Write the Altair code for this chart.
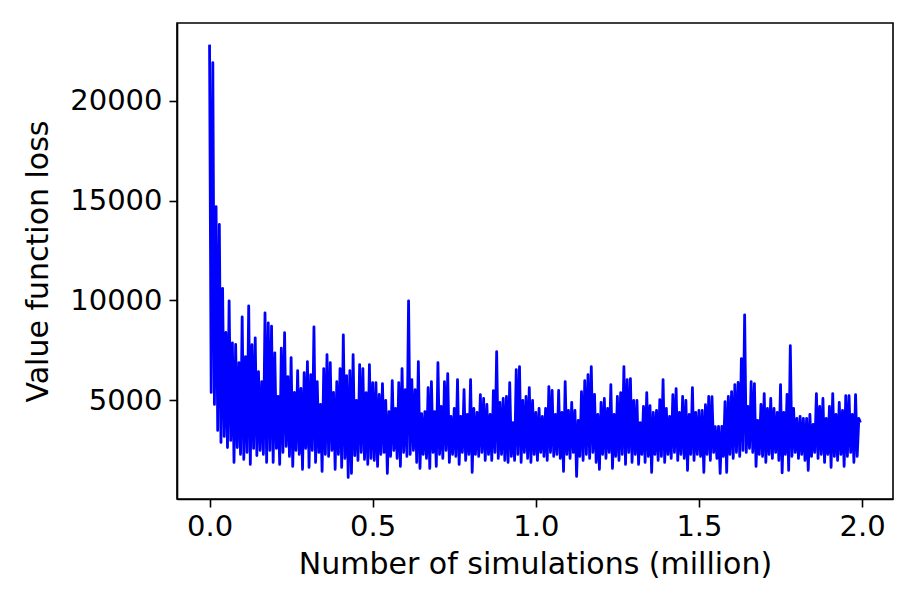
import altair as alt
import pandas as pd

seg_a = [22800, 5400, 21900, 4800, 14700, 3500, 13800, 2900, 10600, 3200, 8400, 2640, 9980, 3000,
         7880, 1900, 7800, 2640, 6890, 2300, 9180, 2050, 7190, 2400, 9730, 1800, 7790, 2600, 8130,
         2240, 6440, 2500, 5940, 2300, 9380, 1900, 8880, 2500, 8720, 1900, 7380]
seg_b = [2600, 5200, 1800, 7620, 2400, 8390, 2700, 6190, 2200, 7140, 1700, 5400, 2500, 6490, 2300,
         5600, 1550, 6390, 2600, 6940, 1650, 6290, 2500, 8680, 1900, 5940, 2400, 4800, 1450, 6590,
         2300, 7290, 2200, 6890, 2500, 5400, 1550, 5940, 2300, 6590, 1650, 8280, 2100, 6240, 1150,
         6490, 1350, 7290, 2240, 5000, 2000, 6790, 2400, 6590, 2050, 5390, 1800, 6790, 2100, 5890]
seg_c = [2000, 5890, 1700, 5300, 2300, 5840, 2400, 5000, 1350, 4440, 2200, 5990, 2500, 4600, 2100,
         5890, 1700, 6590, 2400, 5540, 2200, 9980, 2300, 6040, 2500, 5540, 1900, 6940, 1600, 4340,
         2300, 4440, 2100, 5640, 1600, 5940, 2400, 4440, 1700, 6890, 2300, 4700, 2100, 5940, 2500,
         6340, 1900, 4200, 2300, 4600, 2200, 6040, 1800, 4200, 2400, 5540, 2000, 4300, 2300, 6040]
seg_d = [1400, 4600, 2300, 4400, 2200, 5290, 2400, 5100, 2000, 4800, 2300, 4300, 2000, 5490, 2400,
         7440, 2100, 4900, 2300, 5100, 2000, 5200, 1900, 5890, 2200, 3890, 2000, 6540, 2300, 6690,
         1900, 5000, 2400, 5200, 2100, 5640, 1900, 5000, 2300, 4400, 2000, 4600, 2400, 4200, 2200,
         4600, 2000, 5690, 2400, 5500, 2200, 4300, 2300, 5500, 2100, 4400]
seg_e = [1450, 5940, 2300, 4500, 2100, 4900, 2400, 4500, 1200, 4000, 2200, 5440, 2000, 5990, 2300,
         6290, 2100, 6690, 2400, 5300, 1900, 4300, 1550, 4900, 2300, 5100, 2100, 4600, 2400, 5790,
         1600, 4300, 2200, 5200, 2000, 5390, 2300, 6690, 1800, 6040, 2400, 6090, 1900, 5000, 2300,
         5000, 1800, 3890, 2300, 4700, 1900, 5390, 2200, 4740, 1400, 4400, 2300, 4500, 2000, 5040]
seg_f = [2200, 6040, 1900, 4600, 2300, 4200, 2100, 5290, 2400, 5590, 2000, 4400, 2300, 5200, 2100,
         5000, 1500, 4300, 2300, 5640, 2000, 4400, 2300, 4500, 2200, 4500, 1400, 4790, 2300, 5200,
         2000, 5190, 2400, 3690, 2100, 3700, 1350, 3700, 2200, 4940, 1400, 5200, 2300, 5440, 2100,
         5790, 2400, 5900, 2200, 7090, 2500, 9280, 2400, 4700, 2600, 5940, 2400, 5840, 1700, 4000,
         2300]
seg_g = [4800, 2200, 5340, 1900, 4600, 2300, 5100, 2100, 4600, 2400, 4400, 2000, 5790, 1380, 4400,
         2300, 5300, 1500, 7740, 2200, 4600, 2400, 4100, 2100, 4200, 2300, 4100, 2000, 4100, 1500,
         4300, 2200, 3800, 2400, 5340, 2100, 4700, 2300, 5100, 1900, 4100, 2300, 4700, 1650, 5340,
         2200, 4300, 2000, 4900, 2300, 4500, 1700, 5240, 2200, 5240, 2400, 4300, 1900, 5290, 2200,
         4100, 3900]

loss = seg_a + seg_b + seg_c + seg_d + seg_e + seg_f + seg_g
step = 0.005  # million simulations between logged values
sims = [round(i * step, 4) for i in range(len(loss))]

x_ticks = [0.0, 0.5, 1.0, 1.5, 2.0]
y_ticks = [5000, 10000, 15000, 20000]

df = pd.DataFrame({"sims": sims, "loss": loss})

chart = (
    alt.Chart(df)
    .mark_line(color="#0000ff", strokeWidth=2.8, strokeJoin="round")
    .encode(
        x=alt.X(
            "sims:Q",
            title="Number of simulations (million)",
            scale=alt.Scale(domain=[-0.09975, 2.09475], nice=False, zero=False),
            axis=alt.Axis(values=x_ticks, format=".1f", grid=False, labelPadding=5, titlePadding=8),
        ),
        y=alt.Y(
            "loss:Q",
            title="Value function loss",
            scale=alt.Scale(domain=[68, 23882], nice=False, zero=False),
            axis=alt.Axis(values=y_ticks, format="d", grid=False, labelPadding=7, titlePadding=16),
        ),
    )
    .properties(
        width=716,
        height=476,
        autosize=alt.AutoSizeParams(type="none"),
        padding={"left": 169, "top": 15, "right": 4, "bottom": 95},
        background="white",
    )
    .configure_view(stroke="black", strokeWidth=1.6)
    .configure_axis(
        domainColor="black",
        domainWidth=1.6,
        tickColor="black",
        tickWidth=1.6,
        tickSize=8,
        labelFont="DejaVu Sans",
        labelFontSize=29,
        labelColor="black",
        titleFont="DejaVu Sans",
        titleFontSize=30,
        titleFontWeight="normal",
        titleColor="black",
    )
)

chart.save("out.html", embed_options={"renderer": "svg", "actions": False})
